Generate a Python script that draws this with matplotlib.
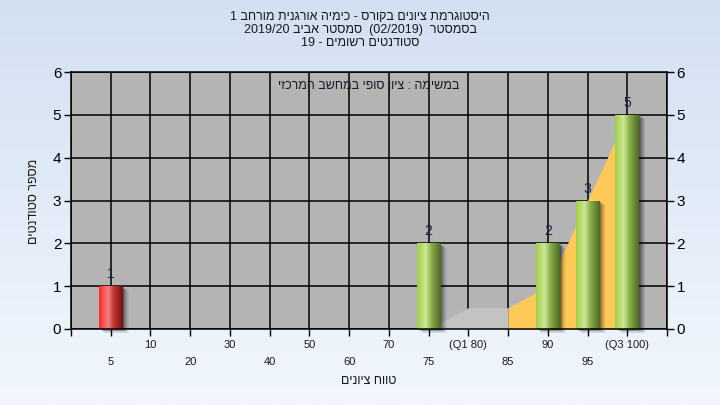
import numpy as np
import matplotlib
matplotlib.use("Agg")
import matplotlib.pyplot as plt
from matplotlib.colors import LinearSegmentedColormap
from matplotlib.patches import Rectangle
from matplotlib import transforms

plt.rcParams['font.family'] = ['Liberation Sans', 'DejaVu Sans']

# ---- data ----
grade_ranges = ['5', '10', '20', '30', '40', '50', '60', '70', '75',
                '(Q1 80)', '85', '90', '95', '(Q3 100)']
students = [1, 0, 0, 0, 0, 0, 0, 0, 2, 0, 0, 2, 3, 5]
failing = ['5']

low_band_x = ['75', '(Q1 80)', '85']
low_band_y = [0, 0.5, 0.5]
high_band_x = ['85', '90', '95', '(Q3 100)']
high_band_y = [0.5, 1, 3, 5]

title_lines = ['היסטוגרמת ציונים בקורס - כימיה אורגנית מורחב 1',
               'בסמסטר  (02/2019)  סמסטר אביב 2019/20',
               'סטודנטים רשומים - 19']
task_note = 'במשימה : ציון סופי במחשב המרכזי'
x_title = 'טווח ציונים'
y_title = 'מספר סטודנטים'


def rtl(s):
    """Lay out a right-to-left line as left-to-right glyph order:
    tokens run in reverse, Hebrew words are spelled backwards,
    numbers keep their own order."""
    out = []
    for w in reversed(s.split(' ')):
        if any('\u0590' <= c <= '\u05ff' for c in w):
            out.append(w[::-1])
        else:
            out.append(w)
    return ' '.join(out)


W, H = 720, 405
fig = plt.figure(figsize=(W / 100, H / 100), dpi=100)

# background gradient
bg = fig.add_axes([0, 0, 1, 1], zorder=-10)
grad = np.linspace(0, 1, 256)[:, None]
bg_cmap = LinearSegmentedColormap.from_list('bg', ['#d3e0f2', '#f1f7fd'])
bg.imshow(grad, aspect='auto', cmap=bg_cmap, extent=[0, 1, 0, 1])
bg.set_axis_off()

left, right, top, bottom = 71, 667, 72, 329
ax = fig.add_axes([left / W, 1 - bottom / H, (right - left) / W, (bottom - top) / H])
ax.set_facecolor('#b4b4b4')

pos = np.arange(1, len(grade_ranges) + 1)
idx = {g: p for g, p in zip(grade_ranges, pos)}

# quartile bands
ax.fill_between([idx[g] for g in low_band_x], low_band_y, color='#c3c3c3', lw=0, zorder=1.2)
ax.fill_between([idx[g] for g in high_band_x], high_band_y, color='#ffc957', lw=0, zorder=1.2)

# bars
bw = 0.6
nz = [(p, v, g) for p, v, g in zip(pos, students, grade_ranges) if v > 0]
red_cmap = LinearSegmentedColormap.from_list(
    'red', [(0, '#ff2626'), (0.38, '#f28080'), (0.62, '#c43434'), (1, '#761010')])
green_cmap = LinearSegmentedColormap.from_list(
    'green', [(0, '#9fcf45'), (0.36, '#cde894'), (0.62, '#88aa48'), (1, '#4d6a24')])

# soft shadows
for k, a in zip(range(1, 8), [0.16, 0.14, 0.12, 0.10, 0.08, 0.06, 0.04]):
    off = transforms.ScaledTranslation(k * 0.9 / 100, -k * 0.6 / 100, fig.dpi_scale_trans)
    for p, v, g in nz:
        ax.add_patch(Rectangle((p - bw / 2, 0), bw, v, transform=ax.transData + off,
                               facecolor='black', alpha=a, lw=0, zorder=1.5, clip_on=False))

bars = ax.bar([p for p, v, g in nz], [v for p, v, g in nz], width=bw,
              color='none', lw=0, zorder=2)
hgrad = np.linspace(0, 1, 128)[None, :]
for b, (p, v, g) in zip(bars, nz):
    cm = red_cmap if g in failing else green_cmap
    im = ax.imshow(hgrad, cmap=cm, aspect='auto', zorder=2,
                   extent=[b.get_x(), b.get_x() + b.get_width(), 0, b.get_height()])
    im.set_clip_path(b)
    ax.text(p, v + 0.28, str(v), ha='center', va='center', fontsize=10,
            color='#1c2540', zorder=3)

ax.set_xlim(0, len(grade_ranges) + 1)
ax.set_ylim(0, 6)

ax.set_axisbelow(True)
ax.set_xticks(np.arange(0, len(grade_ranges) + 2))
ax.set_xticklabels([])
ax.set_yticks(range(7))
ax.grid(True, color='black', lw=1.1)
ax.tick_params(axis='x', length=5, width=1, color='black')
ax.tick_params(axis='y', length=5, width=1, color='black', labelsize=11,
               right=True, labelright=True, pad=2)
for s in ax.spines.values():
    s.set_color('black')
    s.set_linewidth(1.1)

# two staggered rows of category labels
for i, (p, g) in enumerate(zip(pos, grade_ranges)):
    dy = -23.5 if i % 2 == 0 else -11.5
    ax.annotate(g, xy=(p, 0), xycoords=('data', 'axes fraction'),
                xytext=(0, dy), textcoords='offset points',
                ha='center', va='center', fontsize=8, color='#1a1a1a')

ax.text(0.5, 0.945, rtl(task_note), transform=ax.transAxes,
        ha='center', va='center', fontsize=9, color='#1a1a2a')

for k, line in enumerate(title_lines):
    fig.text(0.5, 1 - (17 + 13 * k) / H, rtl(line), ha='center', va='center',
             fontsize=9, color='#1a1a1a')

fig.text((left + right) / 2 / W, 1 - 381 / H, rtl(x_title), ha='center',
         va='center', fontsize=9, color='#1a1a1a')
fig.text(34 / W, 1 - 201 / H, rtl(y_title), rotation=90, ha='center',
         va='center', fontsize=9, color='#1a1a1a')

fig.savefig('out.png', dpi=100)
